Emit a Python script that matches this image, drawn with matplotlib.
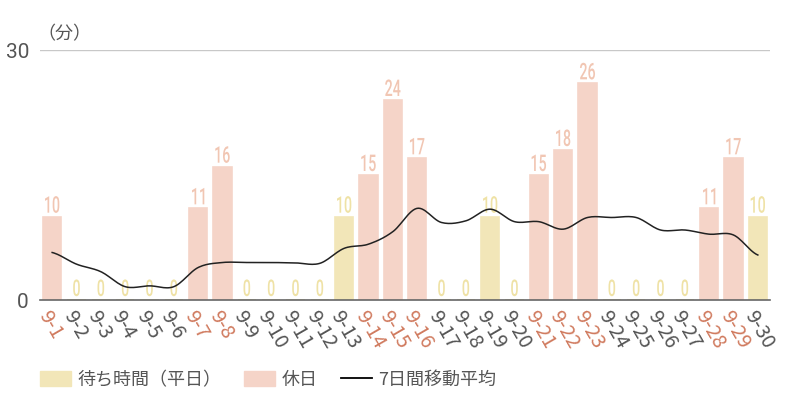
import matplotlib
matplotlib.use('Agg')
import matplotlib.pyplot as plt
from matplotlib.patches import Patch, PathPatch
from matplotlib.lines import Line2D
from matplotlib.textpath import TextPath
from matplotlib.font_manager import FontProperties
from matplotlib.transforms import Affine2D, ScaledTranslation
import numpy as np

plt.rcParams['font.family'] = ['Noto Sans CJK JP', 'DejaVu Sans']

days = ['9-%d' % d for d in range(1, 31)]
wait_min = [10, 0, 0, 0, 0, 0, 11, 16, 0, 0, 0, 0, 10, 15, 24, 17, 0, 0, 10, 0,
            15, 18, 26, 0, 0, 0, 0, 11, 17, 10]
holiday = [1, 0, 0, 0, 0, 0, 1, 1, 0, 0, 0, 0, 0, 1, 1, 1, 0, 0, 0, 0,
           1, 1, 1, 0, 0, 0, 0, 1, 1, 0]
avg7 = [5.7, 4.3, 3.4, 1.6, 1.7, 1.6, 3.9, 4.5, 4.5, 4.5, 4.45, 4.4, 6.2, 6.7, 8.2,
        11.0, 9.3, 9.5, 10.9, 9.4, 9.4, 8.5, 9.9, 9.9, 9.9, 8.4, 8.4, 7.9, 7.8, 5.4]

YELLOW = '#f2e6b8'
PINK = '#f5d4c8'
YELLOW_TXT = '#efe2a6'
PINK_TXT = '#f1c6b3'
RED_TICK = '#d07a5e'
GRAY = '#555555'

fig = plt.figure(figsize=(8, 4), dpi=100)
ax = fig.add_axes([0.05, 0.25, 0.9125, 0.625])

x = np.arange(len(days))
cols = [PINK if h else YELLOW for h in holiday]
ax.bar(x, wait_min, width=0.75, color=cols, edgecolor=cols, linewidth=1.2, zorder=2)

# condensed value labels (squeeze glyph paths horizontally)
num_font = FontProperties(family='Roboto', weight='medium')
for i, v in enumerate(wait_min):
    c = PINK_TXT if holiday[i] else YELLOW_TXT
    tp = TextPath((0, 0), str(v), size=23, prop=num_font)
    bb = tp.get_extents()
    tr = (Affine2D().translate(-(bb.x0 + bb.width / 2), 0).scale(0.62, 1.0)
          .translate(0, 4) + ScaledTranslation(i, v, ax.transData))
    ax.add_patch(PathPatch(tp, transform=tr, facecolor=c, edgecolor='none',
                           zorder=3, clip_on=False))

# smooth line through the averages
xs = np.linspace(0, len(days) - 1, 400)
def catmull(px, py, t):
    out = []
    for tt in t:
        i = min(int(tt), len(px) - 2)
        u = tt - i
        p0 = py[max(i - 1, 0)]; p1 = py[i]; p2 = py[i + 1]; p3 = py[min(i + 2, len(py) - 1)]
        out.append(0.5 * ((2 * p1) + (-p0 + p2) * u + (2 * p0 - 5 * p1 + 4 * p2 - p3) * u ** 2
                          + (-p0 + 3 * p1 - 3 * p2 + p3) * u ** 3))
    return np.array(out)
ax.plot(xs, catmull(x, avg7, xs), color='#222222', lw=1.1, zorder=4)

ax.set_xlim(-0.5, len(days) - 0.5)
ax.set_ylim(0, 30)
ax.set_yticks([0, 30])
ax.set_yticklabels(['0', '30'], fontsize=15, color=GRAY, family='Roboto')
ax.axhline(30, color='#c8c8c8', lw=1, zorder=1)
for s in ['top', 'right', 'left']:
    ax.spines[s].set_visible(False)
ax.spines['bottom'].set_color('#666666')
ax.spines['bottom'].set_linewidth(1.2)
ax.tick_params(axis='both', length=0)
ax.tick_params(axis='y', pad=8)
ax.set_xticks(x)
ax.set_xticklabels(days, rotation=-60, ha='left', va='top', rotation_mode='anchor',
                   fontsize=14.5)
for lbl, h in zip(ax.get_xticklabels(), holiday):
    lbl.set_color(RED_TICK if h else GRAY)
ax.tick_params(axis='x', pad=5)

fig.text(0.047, 0.915, '（分）', fontsize=13, color=GRAY, va='center', ha='left')

handles = [Patch(color=YELLOW, label='待ち時間（平日）'),
           Patch(color=PINK, label='休日'),
           Line2D([0], [0], color='black', lw=1.3, label='7日間移動平均')]
fig.legend(handles=handles, loc='center left', bbox_to_anchor=(0.05, 0.05), ncol=3,
           frameon=False, fontsize=13, labelcolor=GRAY, handlelength=1.7,
           handleheight=0.9, columnspacing=1.3, handletextpad=0.35, borderaxespad=0,
           borderpad=0)

fig.savefig('out.png', dpi=100)
